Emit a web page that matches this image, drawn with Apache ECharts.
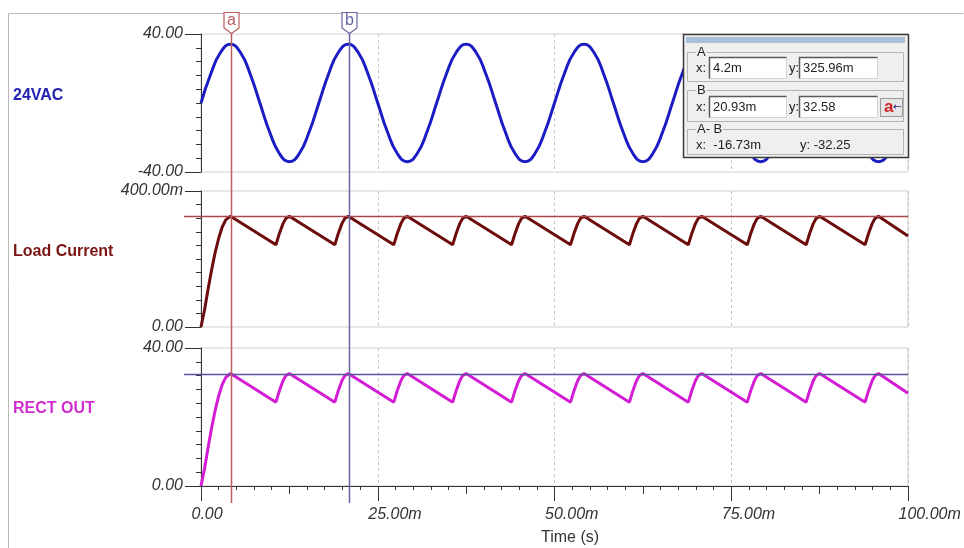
<!DOCTYPE html>
<html><head><meta charset="utf-8">
<script src="https://cdn.jsdelivr.net/npm/echarts@6/dist/echarts.min.js"></script>
<style>html,body{margin:0;padding:0;background:#fff}#c{width:964px;height:548px}</style>
</head><body><div id="c"></div>
<script>
// ---- data (time in ms) ----
const sineTime = [0,1.39,2.78,4.17,5.56,6.94,8.33,9.72,11.11,12.50,13.89,15.28,
16.67,18.06,19.44,20.83,22.22,23.61,25.00,26.39,27.78,29.17,30.56,31.94,
33.33,34.72,36.11,37.50,38.89,40.28,41.67,43.06,44.44,45.83,47.22,48.61,
50.00,51.39,52.78,54.17,55.56,56.94,58.33,59.72,61.11,62.50,63.89,65.28,
66.67,68.06,69.44,70.83,72.22,73.61,75.00,76.39,77.78,79.17,80.56,81.94,
83.33,84.72,86.11,87.50,88.89,90.28,91.67,93.06,94.44,95.83,97.22,98.61,100.00];
const sineValue = [0,17,29.4,34,29.4,17,0,-17,-29.4,-34,-29.4,-17,
0,17,29.4,34,29.4,17,0,-17,-29.4,-34,-29.4,-17,
0,17,29.4,34,29.4,17,0,-17,-29.4,-34,-29.4,-17,
0,17,29.4,34,29.4,17,0,-17,-29.4,-34,-29.4,-17,
0,17,29.4,34,29.4,17,0,-17,-29.4,-34,-29.4,-17,
0,17,29.4,34,29.4,17,0,-17,-29.4,-34,-29.4,-17,0];
const rectTime = [0,0.5,1,1.5,2,2.5,3,3.5,4.17,
10.60,11.10,11.60,12.00,12.50,
18.93,19.43,19.93,20.33,20.83,
27.27,27.77,28.27,28.67,29.17,
35.60,36.10,36.60,37.00,37.50,
43.93,44.43,44.93,45.33,45.83,
52.27,52.77,53.27,53.67,54.17,
60.60,61.10,61.60,62.00,62.50,
68.93,69.43,69.93,70.33,70.83,
77.27,77.77,78.27,78.67,79.17,
85.60,86.10,86.60,87.00,87.50,
93.93,94.43,94.93,95.33,95.83,
100.00];
const rectOut = [0,5.0,11.1,16.8,21.9,26.1,29.4,31.5,32.6,
24.3,27.7,30.5,32.0,32.6,
24.3,27.7,30.5,32.0,32.6,
24.3,27.7,30.5,32.0,32.6,
24.3,27.7,30.5,32.0,32.6,
24.3,27.7,30.5,32.0,32.6,
24.3,27.7,30.5,32.0,32.6,
24.3,27.7,30.5,32.0,32.6,
24.3,27.7,30.5,32.0,32.6,
24.3,27.7,30.5,32.0,32.6,
24.3,27.7,30.5,32.0,32.6,
24.3,27.7,30.5,32.0,32.6,
26.9];
const loadCurrent = [0,0.050,0.111,0.168,0.219,0.261,0.294,0.315,0.326,
0.242,0.276,0.304,0.319,0.326,
0.242,0.276,0.304,0.319,0.326,
0.242,0.276,0.304,0.319,0.326,
0.242,0.276,0.304,0.319,0.326,
0.242,0.276,0.304,0.319,0.326,
0.242,0.276,0.304,0.319,0.326,
0.242,0.276,0.304,0.319,0.326,
0.242,0.276,0.304,0.319,0.326,
0.242,0.276,0.304,0.319,0.326,
0.242,0.276,0.304,0.319,0.326,
0.242,0.276,0.304,0.319,0.326,
0.268];
const xTicks = [0,25,50,75,100];
const xTickLabels = ['0.00','25.00m','50.00m','75.00m','100.00m'];
const seriesNames = ['24VAC','Load Current','RECT OUT'];
const cursorA = {x:4.2, y:0.32596, xText:'4.2m', yText:'325.96m'};
const cursorB = {x:20.93, y:32.58, xText:'20.93m', yText:'32.58'};
const diffText = {x:'-16.73m', y:'-32.25'};

const FONT = "'Liberation Sans', Arial, sans-serif";
const chart = echarts.init(document.getElementById('c'), null, {renderer:'canvas'});

const zip = (a,b)=>a.map((t,i)=>[t,b[i]]);
const gridCommon = {left:201, width:707, show:true, borderColor:'#cfcfcf', borderWidth:1, backgroundColor:'transparent'};
const split = {show:true, lineStyle:{color:'#c4c4c4', type:[3,3], width:1}};
function xHidden(g){return {type:'value', gridIndex:g, min:0, max:100, interval:25, position:'bottom',
  axisLine:{show:false,onZero:false}, axisTick:{show:false}, axisLabel:{show:false}, splitLine:split};}
function yMajor(g,min,max,fmt){return {type:'value', gridIndex:g, min:min, max:max, interval:max-min, position:'left',
  axisLine:{show:true,onZero:false,lineStyle:{color:'#333',width:1}},
  axisTick:{show:true,length:16,lineStyle:{color:'#333'}},
  axisLabel:{margin:18, formatter:fmt, fontStyle:'italic', fontSize:16, color:'#333', fontFamily:FONT},
  splitLine:{show:false}};}
function yMinor(g,min,max,step){return {type:'value', gridIndex:g, min:min, max:max, interval:step, position:'left',
  axisLine:{show:false,onZero:false}, axisTick:{show:true,length:5,lineStyle:{color:'#333'}},
  axisLabel:{show:false}, splitLine:{show:false}};}

chart.setOption({
  animation:false,
  backgroundColor:'#fff',
  grid:[
    Object.assign({top:34,height:138},gridCommon),
    Object.assign({top:191,height:136},gridCommon),
    Object.assign({top:348,height:138},gridCommon)
  ],
  xAxis:[
    xHidden(0), xHidden(1),
    {type:'value', gridIndex:2, min:0, max:100, interval:25, position:'bottom',
     axisLine:{show:true,onZero:false,lineStyle:{color:'#333',width:1}},
     axisTick:{show:true,length:15,lineStyle:{color:'#333'}},
     axisLabel:{show:false},
     splitLine:split},
    {type:'value', gridIndex:2, min:0, max:100, interval:12.5, position:'bottom',
     axisLine:{show:false,onZero:false}, axisTick:{show:true,length:8,lineStyle:{color:'#333'}},
     minorTick:{show:true,splitNumber:5,length:4,lineStyle:{color:'#333'}},
     axisLabel:{show:false}, splitLine:{show:false}}
  ],
  yAxis:[
    yMajor(0,-40,40,v=>v.toFixed(2)), yMinor(0,-40,40,8),
    yMajor(1,0,0.4,v=> v===0 ? '0.00' : (v*1000).toFixed(2)+'m'), yMinor(1,0,0.4,0.04),
    yMajor(2,0,40,v=>v.toFixed(2)), yMinor(2,0,40,4)
  ],
  series:[
    {name:seriesNames[0], type:'line', xAxisIndex:0, yAxisIndex:0, data:zip(sineTime,sineValue),
     smooth:true, showSymbol:false, lineStyle:{color:'#1c1cc4', width:3}},
    {name:seriesNames[1], type:'line', xAxisIndex:1, yAxisIndex:2, data:zip(rectTime,loadCurrent),
     showSymbol:false, lineStyle:{color:'#6d0c0c', width:3}},
    {name:seriesNames[2], type:'line', xAxisIndex:2, yAxisIndex:4, data:zip(rectTime,rectOut),
     showSymbol:false, lineStyle:{color:'#d31cd3', width:3}}
  ]
});

// ---- overlays positioned from the chart's own scales ----
const px = v=>chart.convertToPixel({xAxisIndex:2}, v);
const xa = Math.round(px(cursorA.x))+0.5, xb = Math.round(px(cursorB.x))+0.5;
const x0 = px(0), x100 = px(100);
const yTop = chart.convertToPixel({yAxisIndex:0}, 40);
const yBot = chart.convertToPixel({yAxisIndex:4}, 0);
const yLoad = Math.round(chart.convertToPixel({yAxisIndex:2}, cursorA.y))+0.5;
const yRect = Math.round(chart.convertToPixel({yAxisIndex:4}, cursorB.y))+0.5;
const colA = '#bc5c5c', colB = '#6565a6';
const g = [];
// outer frame
g.push({type:'polyline', shape:{points:[[963.5,13.5],[8.5,13.5],[8.5,548]]}, style:{stroke:'#b8b8b8', fill:null, lineWidth:1}, z:1});
// x tick labels (left-aligned just before each tick, as in the reference)
xTicks.forEach((v,i)=>{
  g.push({type:'text', x:px(v)-9.5, y:yBot+29, style:{text:xTickLabels[i], fill:'#333', fontFamily:FONT, fontStyle:'italic', fontSize:16, align:'left', verticalAlign:'middle'}, z:5});
});
// series names
const nameStyle = (t,c,y)=>({type:'text', x:13, y:y, style:{text:t, fill:c, fontFamily:FONT, fontWeight:'bold', fontSize:16, verticalAlign:'middle'}, z:5});
g.push(nameStyle(seriesNames[0],'#2222b0',96));
g.push(nameStyle(seriesNames[1],'#7a1414',252));
g.push(nameStyle(seriesNames[2],'#d02cd0',409));
// time label
g.push({type:'text', x:570, y:538, style:{text:'Time (s)', fill:'#333', fontFamily:FONT, fontSize:16, align:'center', verticalAlign:'middle'}, z:5});
// horizontal cursor lines
g.push({type:'line', shape:{x1:x0-17,y1:yLoad,x2:x100,y2:yLoad}, style:{stroke:'#a84848', lineWidth:1.5}, z:50});
g.push({type:'line', shape:{x1:x0-17,y1:yRect,x2:x100,y2:yRect}, style:{stroke:'#55559a', lineWidth:1.5}, z:50});
// vertical cursors with flags
function cursor(x,col,label){
  g.push({type:'line', shape:{x1:x,y1:yTop-1,x2:x,y2:yBot+17}, style:{stroke:col, lineWidth:1.5}, z:60});
  g.push({type:'polygon', shape:{points:[[x-7.5,12.5],[x+7.5,12.5],[x+7.5,28],[x,33.5],[x-7.5,28]]}, style:{fill:'#fff', stroke:col, lineWidth:1.2}, z:61});
  g.push({type:'text', x:x, y:21, style:{text:label, fill:col, fontFamily:FONT, fontSize:16, align:'center', verticalAlign:'middle'}, z:62});
}
cursor(xa,colA,'a'); cursor(xb,colB,'b');
// cursor readout box
const Z=100;
g.push({type:'rect', shape:{x:683.5,y:34.5,width:225,height:123}, style:{fill:'#efefef', stroke:'#3a3a3a', lineWidth:1.5}, z:Z});
g.push({type:'rect', shape:{x:686,y:37,width:219,height:6}, style:{fill:'#a9bfd8'}, z:Z+1});
function group(y,h,label){
  g.push({type:'rect', shape:{x:687.5,y:y+0.5,width:216,height:h}, style:{fill:null, stroke:'#b4b4b4', lineWidth:1}, z:Z+1});
  g.push({type:'text', x:696, y:y, style:{text:label, fill:'#222', fontFamily:FONT, fontSize:13, verticalAlign:'middle', backgroundColor:'#efefef', padding:[0,1]}, z:Z+2});
}
function field(x,y,w,h,txt){
  g.push({type:'rect', shape:{x:x+0.5,y:y+0.5,width:w,height:h}, style:{fill:'#fff', stroke:'#d4d4d4', lineWidth:1}, z:Z+2});
  g.push({type:'polyline', shape:{points:[[x+0.5,y+h+0.5],[x+0.5,y+0.5],[x+w+0.5,y+0.5]]}, style:{stroke:'#5a5a5a', fill:null, lineWidth:1.5}, z:Z+3});
  g.push({type:'text', x:x+4, y:y+h/2+1, style:{text:txt, fill:'#222', fontFamily:FONT, fontSize:13, verticalAlign:'middle'}, z:Z+4});
}
function lbl(x,y,t){g.push({type:'text', x:x, y:y, style:{text:t, fill:'#222', fontFamily:FONT, fontSize:13, verticalAlign:'middle'}, z:Z+4});}
group(52,29,'A');
lbl(696,68,'x:'); field(709,57,77,21,cursorA.xText);
lbl(789,68,'y:'); field(799,57,78,21,cursorA.yText);
group(90,31,'B');
lbl(696,107,'x:'); field(709,96,77,21,cursorB.xText);
lbl(789,107,'y:'); field(799,96,78,21,cursorB.yText);
g.push({type:'rect', shape:{x:880.5,y:98.5,width:22,height:18}, style:{fill:'#e6e6e6', stroke:'#9a9a9a', lineWidth:1}, z:Z+2});
g.push({type:'text', x:884, y:107, style:{text:'a', fill:'#d42020', fontFamily:FONT, fontWeight:'bold', fontSize:17, verticalAlign:'middle'}, z:Z+4});
g.push({type:'text', x:893, y:107, style:{text:'←', fill:'#1a1a70', fontFamily:"'DejaVu Sans', sans-serif", fontSize:10, verticalAlign:'middle'}, z:Z+4});
group(129,25,'A- B');
lbl(696,145,'x:  '+diffText.x);
lbl(800,145,'y: '+diffText.y);

chart.setOption({graphic:g});
</script>
</body></html>
